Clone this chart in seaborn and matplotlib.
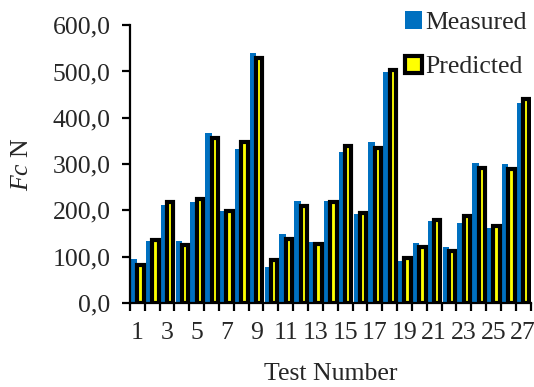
import matplotlib
matplotlib.use("Agg")
import matplotlib.pyplot as plt
from matplotlib.patches import Patch
import numpy as np
import pandas as pd
import seaborn as sns

# Cutting force per test: measured vs. model prediction (N)
tests = list(range(1, 28))
measured = [94, 134, 211, 133, 218, 367, 198, 332, 540, 77,
            150, 220, 131, 220, 327, 193, 348, 499, 91, 130,
            178, 122, 172, 303, 161, 301, 432]
predicted = [82, 136, 219, 125, 224, 357, 199, 347, 529, 92,
             138, 210, 127, 219, 339, 195, 334, 504, 97, 121,
             180, 113, 188, 292, 166, 289, 440]

series_names = ["Measured", "Predicted"]
y_ticks = [0, 100, 200, 300, 400, 500, 600]
y_tick_labels = ["0,0", "100,0", "200,0", "300,0", "400,0", "500,0", "600,0"]
x_label_tests = [1, 3, 5, 7, 9, 11, 13, 15, 17, 19, 21, 23, 25, 27]

BLUE = "#0070C0"
YELLOW = "#FFFF00"
FS = 18.5
EDGE_LW = 3.0

sns.set_style("white")
plt.rcParams["font.family"] = ["Liberation Serif", "DejaVu Serif"]
plt.rcParams["mathtext.fontset"] = "custom"
plt.rcParams["mathtext.it"] = "Liberation Serif:italic"
plt.rcParams["mathtext.rm"] = "Liberation Serif"

df = pd.DataFrame({
    "Test": tests * 2,
    "Fc": measured + predicted,
    "Series": [series_names[0]] * len(tests) + [series_names[1]] * len(tests),
})

fig = plt.figure(figsize=(5.34, 3.87), dpi=100)
ax = fig.add_axes([0.2434, 0.217, 0.7501, 0.718])

sns.barplot(data=df, x="Test", y="Fc", hue="Series",
            palette={series_names[0]: BLUE, series_names[1]: YELLOW},
            width=0.86, errorbar=None, legend=False, ax=ax, saturation=1)

for bar in ax.containers[0]:
    bar.set_linewidth(0)
for bar in ax.containers[1]:
    bar.set_edgecolor("black")
    bar.set_linewidth(EDGE_LW)

ax.set_ylim(0, 600)
ax.set_xlim(-0.5, len(tests) - 0.5)
ax.set_yticks(y_ticks)
ax.set_yticklabels(y_tick_labels, fontsize=FS)

# labels on odd tests, tick marks on category boundaries
ax.set_xticks([t - 1 for t in x_label_tests])
ax.set_xticklabels([str(t) for t in x_label_tests], fontsize=FS)
ax.set_xticks(np.arange(-0.5, len(tests), 1.0), minor=True)
ax.tick_params(axis="x", which="major", length=0, pad=14)
ax.tick_params(axis="x", which="minor", length=6, width=1.6, color="black",
               direction="out", bottom=True)
ax.tick_params(axis="y", which="major", length=6, width=1.6, color="black",
               direction="out", left=True, pad=8)

for side in ["top", "right"]:
    ax.spines[side].set_visible(False)
for side in ["left", "bottom"]:
    ax.spines[side].set_color("black")
    ax.spines[side].set_linewidth(1.6)

ax.set_xlabel("Test Number", fontsize=FS, labelpad=13)
ax.set_ylabel(r"$\mathit{Fc}$ N", fontsize=FS, labelpad=14)

handles = [Patch(facecolor=BLUE, edgecolor="none"),
           Patch(facecolor=YELLOW, edgecolor="black", linewidth=EDGE_LW)]
fig.legend(handles, series_names, loc="upper right",
           bbox_to_anchor=(1.005, 0.997), frameon=False, fontsize=FS,
           handlelength=0.65, handleheight=0.65, handletextpad=0.12,
           labelspacing=0.85, borderaxespad=0)

fig.savefig("out.png", dpi=100)
